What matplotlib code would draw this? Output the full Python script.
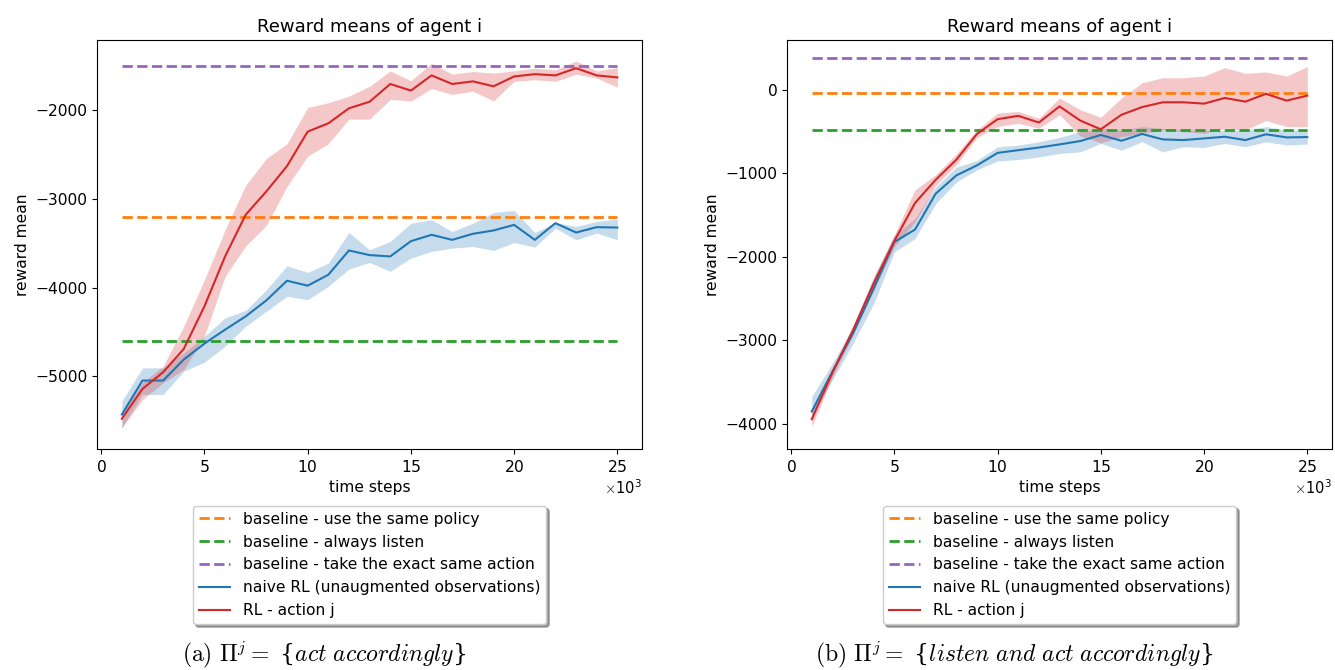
"""
Reward means of agent i: RL vs baselines, two policy settings.
"""

import matplotlib

matplotlib.use("Agg")
import matplotlib.pyplot as plt
import numpy as np

plt.rcParams["mathtext.fontset"] = "cm"
plt.rcParams["xtick.labelsize"] = 11.2
plt.rcParams["ytick.labelsize"] = 11.2
plt.rcParams["axes.labelsize"] = 11.2
plt.rcParams["axes.titlesize"] = 13

steps = np.arange(1, 26) * 1000

# (a) act accordingly
a_baselines = {"same_policy": -3200, "always_listen": -4600, "exact_action": -1500}
a_naive_mean = [-5432, -5049, -5049, -4812, -4632, -4475, -4325, -4145, -3923, -3979,
                -3856, -3582, -3634, -3649, -3477, -3405, -3462, -3394, -3356, -3293,
                -3462, -3274, -3379, -3319, -3323]
a_naive_hi = [-5281, -4906, -4906, -4737, -4550, -4343, -4257, -4024, -3754, -3829,
              -3724, -3379, -3574, -3480, -3274, -3236, -3368, -3274, -3154, -3131,
              -3379, -3266, -3311, -3255, -3229]
a_naive_lo = [-5582, -5206, -5206, -4944, -4842, -4662, -4437, -4268, -4099, -4137,
              -3987, -3792, -3717, -3818, -3668, -3593, -3555, -3537, -3582, -3492,
              -3544, -3330, -3462, -3386, -3462]
a_rl_mean = [-5480, -5143, -4955, -4692, -4212, -3649, -3178, -2915, -2630, -2241,
             -2148, -1978, -1904, -1704, -1778, -1607, -1704, -1674, -1730, -1619,
             -1593, -1607, -1526, -1607, -1630]
a_rl_hi = [-5413, -5075, -4887, -4437, -3912, -3349, -2845, -2544, -2378, -1970,
           -1915, -1841, -1730, -1556, -1667, -1470, -1593, -1563, -1581, -1556,
           -1526, -1544, -1444, -1556, -1519]
a_rl_lo = [-5582, -5263, -5075, -4925, -4550, -3874, -3530, -3300, -2859, -2519,
           -2378, -2100, -2100, -1878, -1896, -1756, -1822, -1785, -1896, -1674,
           -1656, -1674, -1593, -1637, -1741]

# (b) listen and act accordingly
b_baselines = {"same_policy": -40, "always_listen": -480, "exact_action": 380}
b_naive_mean = [-3853, -3376, -2918, -2381, -1824, -1676, -1247, -1028, -908, -758,
                -726, -694, -657, -617, -544, -613, -532, -597, -605, -585,
                -565, -605, -536, -573, -569]
b_naive_hi = [-3674, -3276, -2838, -2242, -1744, -1545, -1167, -928, -850, -685,
              -665, -625, -573, -504, -464, -484, -444, -464, -484, -484,
              -492, -484, -444, -484, -484]
b_naive_lo = [-3913, -3475, -3037, -2560, -1943, -1784, -1366, -1107, -960, -855,
              -839, -806, -766, -746, -645, -726, -625, -746, -685, -694,
              -645, -685, -625, -665, -653]
b_rl_mean = [-3945, -3388, -2878, -2321, -1812, -1358, -1080, -840, -532, -355,
             -315, -395, -202, -371, -476, -302, -210, -153, -153, -169,
             -101, -145, -52, -133, -73]
b_rl_hi = [-3853, -3330, -2830, -2250, -1740, -1199, -1020, -770, -484, -282,
           -262, -343, -101, -242, -331, -101, 81, 141, 141, 161,
           262, 194, 210, 161, 274]
b_rl_lo = [-4032, -3440, -2930, -2400, -1880, -1585, -1150, -900, -573, -444,
           -403, -464, -302, -556, -637, -565, -524, -484, -504, -524,
           -464, -484, -371, -444, -444]

COLORS = {
    "same_policy": "#ff7f0e",
    "always_listen": "#2ca02c",
    "exact_action": "#9467bd",
    "naive": "#1f77b4",
    "rl": "#d62728",
}
LABELS = {
    "same_policy": "baseline - use the same policy",
    "always_listen": "baseline - always listen",
    "exact_action": "baseline - take the exact same action",
    "naive": "naive RL (unaugmented observations)",
    "rl": "RL - action j",
}


def plot_panel(ax, baselines, naive, rl, ylim):
    for key in ["same_policy", "always_listen", "exact_action"]:
        ax.plot([steps[0], steps[-1]], [baselines[key]] * 2, "--",
                color=COLORS[key], linewidth=2, label=LABELS[key])
    for key, (mean, hi, lo) in [("naive", naive), ("rl", rl)]:
        ax.plot(steps, mean, color=COLORS[key], linewidth=1.5, label=LABELS[key])
        ax.fill_between(steps, lo, hi, color=COLORS[key], alpha=0.25, linewidth=0)
    ax.set_title("Reward means of agent i")
    ax.set_xlabel("time steps")
    ax.set_ylabel("reward mean")
    ax.set_xlim(-200, 26200)
    ax.set_ylim(*ylim)
    ax.ticklabel_format(axis="x", style="sci", scilimits=(3, 3), useMathText=True)
    ax.xaxis.get_offset_text().set_fontsize(10.5)
    ax.legend(loc="upper center", bbox_to_anchor=(0.5, -0.12), shadow=True,
              fancybox=True, fontsize=11.2)


fig = plt.figure(figsize=(13.35, 6.7), dpi=100)
ax_a = fig.add_axes([0.0727, 0.330, 0.4083, 0.610])
ax_b = fig.add_axes([0.5895, 0.330, 0.4083, 0.610])

plot_panel(ax_a, a_baselines, (a_naive_mean, a_naive_hi, a_naive_lo),
           (a_rl_mean, a_rl_hi, a_rl_lo), (-5820, -1210))
plot_panel(ax_b, b_baselines, (b_naive_mean, b_naive_hi, b_naive_lo),
           (b_rl_mean, b_rl_hi, b_rl_lo), (-4300, 590))

# captions: braces as plain serif text so they keep normal size
fig.text(0.243, 0.012, r"$\mathrm{(a)}\ \Pi^j =\ ${$act\ accordingly$}",
         ha="center", va="baseline", fontsize=17, family="DejaVu Serif")
fig.text(0.760, 0.012, r"$\mathrm{(b)}\ \Pi^j =\ ${$listen\ and\ act\ accordingly$}",
         ha="center", va="baseline", fontsize=17, family="DejaVu Serif")

fig.savefig("out.png", dpi=100)
plt.close(fig)
